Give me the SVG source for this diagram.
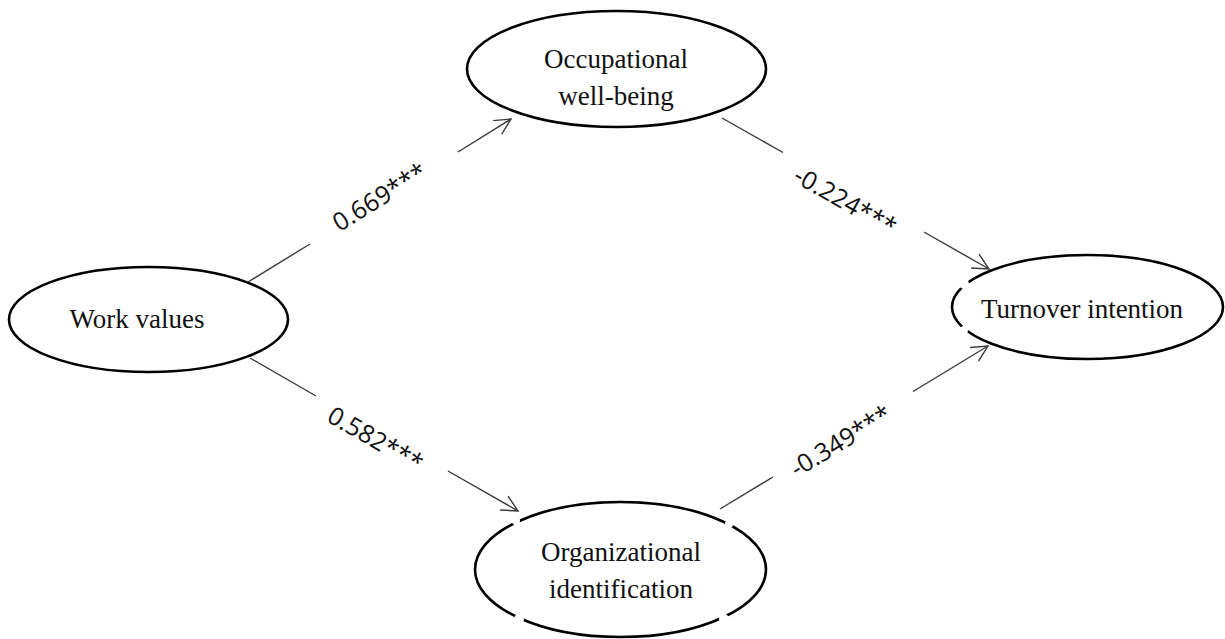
<svg xmlns="http://www.w3.org/2000/svg" width="1225" height="639" viewBox="0 0 1225 639">
  <style>
    .node ellipse { fill: none; stroke: #000; stroke-width: 2.6; }
    .node text { font-family: "Liberation Serif", "Times New Roman", serif; font-size: 27px; fill: #111; text-anchor: middle; }
    .gap { fill: #fff; stroke: none; }
    .edge line { stroke: #3a3a3a; stroke-width: 1.4; fill: none; }
    .coef { font-family: "Open Sans", "Noto Sans", sans-serif; font-size: 25px; fill: #111; text-anchor: middle; dominant-baseline: central; }
  </style>
  <defs>
    <marker id="arrow" viewBox="0 0 18 18" refX="17" refY="9" markerWidth="18" markerHeight="18" markerUnits="userSpaceOnUse" orient="auto">
      <path d="M1,1 L17,9 L1,17" fill="none" stroke="#3a3a3a" stroke-width="1.4"/>
    </marker>
  </defs>
  <rect width="1225" height="639" fill="#fff"/>

  <g id="work-values" class="node">
    <ellipse cx="148.5" cy="319.5" rx="139.5" ry="52.5"/>
    <text x="137" y="328">Work values</text>
  </g>

  <g id="occupational-well-being" class="node">
    <ellipse cx="616.5" cy="69" rx="149.5" ry="58"/>
    <text x="616" y="68">Occupational</text>
    <text x="616" y="105">well-being</text>
  </g>

  <g id="organizational-identification" class="node">
    <ellipse cx="620.5" cy="569.5" rx="145.5" ry="67.5"/>
    <circle class="gap" cx="516" cy="521" r="4"/>
    <circle class="gap" cx="729" cy="524" r="4"/>
    <circle class="gap" cx="519" cy="619" r="5"/>
    <circle class="gap" cx="724" cy="619" r="5"/>
    <text x="621" y="561">Organizational</text>
    <text x="621" y="598">identification</text>
  </g>

  <g id="turnover-intention" class="node">
    <ellipse cx="1087.5" cy="307" rx="135.5" ry="52"/>
    <circle class="gap" cx="964" cy="284" r="5"/>
    <circle class="gap" cx="964" cy="330" r="4"/>
    <text x="1082" y="318">Turnover intention</text>
  </g>

  <g id="connectors" class="edge">
    <line x1="248" y1="282" x2="310" y2="244"/>
    <line x1="458" y1="152" x2="511" y2="119" marker-end="url(#arrow)"/>
    <line x1="722" y1="118" x2="783" y2="152.5"/>
    <line x1="924" y1="232" x2="989" y2="269" marker-end="url(#arrow)"/>
    <line x1="250" y1="358" x2="316" y2="396"/>
    <line x1="448" y1="471" x2="518" y2="511" marker-end="url(#arrow)"/>
    <line x1="720" y1="509" x2="773" y2="477"/>
    <line x1="913" y1="391.5" x2="988" y2="346" marker-end="url(#arrow)"/>
  </g>

  <g id="coefficients">
    <text class="coef" transform="translate(379,196) rotate(-31.8)">0.669***</text>
    <text class="coef" transform="translate(846,200) rotate(29.5)">-0.224***</text>
    <text class="coef" transform="translate(376,438) rotate(29.7)">0.582***</text>
    <text class="coef" transform="translate(840,440) rotate(-31.3)">-0.349***</text>
  </g>
</svg>
